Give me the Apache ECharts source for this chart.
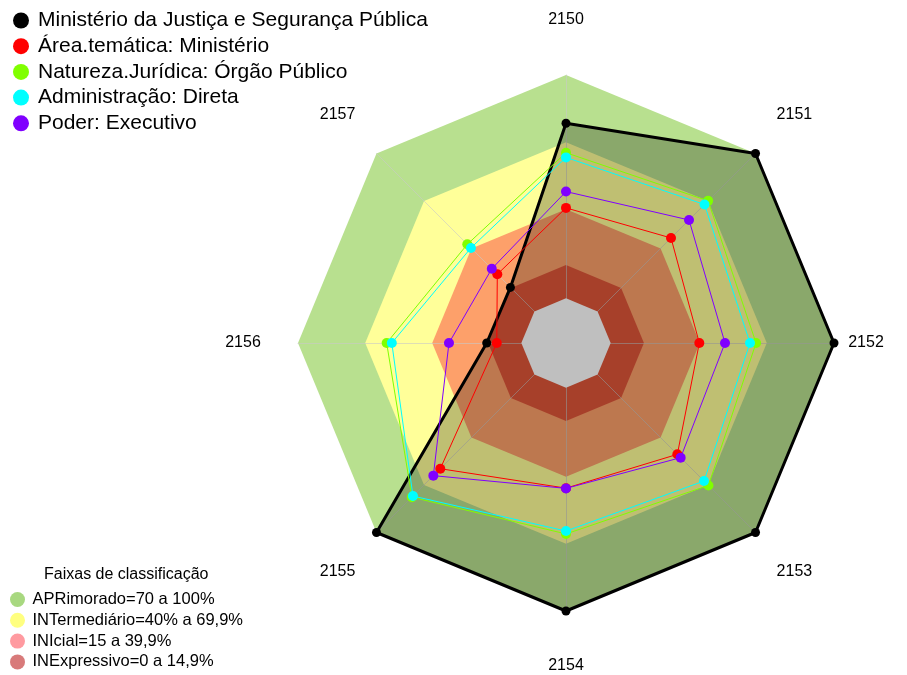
<!DOCTYPE html>
<html>
<head>
<meta charset="utf-8">
<script src="https://cdn.jsdelivr.net/npm/echarts@6.0.0/dist/echarts.min.js"></script>
<style>
    html, body {margin: 0; padding: 0; background: #fff;}
    #chart {width: 907px; height: 675px;}
</style>
</head>
<body>
<div id="chart"></div>
<script>
// eixos do radar, em sentido horario a partir do topo
const categorias = ['2150', '2151', '2152', '2153', '2154', '2155', '2156', '2157']

const nomesSeries = [
    'Ministério da Justiça e Segurança Pública',
    'Área.temática: Ministério',
    'Natureza.Jurídica: Órgão Público',
    'Administração: Direta',
    'Poder: Executivo'
]
const ministerio = [78.4, 100, 100, 100, 100, 100, 15.5, 15.2]
const areaTematica = [40.5, 46.5, 39.7, 50.5, 45.0, 59.6, 11.0, 23.5]
const naturezaJuridica = [65.2, 70.0, 65.1, 70.2, 65.5, 77.6, 60.3, 42.5]
const administracao = [63.1, 67.7, 62.4, 67.4, 64.2, 76.9, 58.0, 40.2]
const poder = [47.8, 57.9, 51.2, 52.6, 45.1, 64.0, 32.4, 27.0]

// faixas de classificacao (limite superior de cada faixa)
const nomesFaixas = [
    'APRimorado=70 a 100%',
    'INTermediário=40% a 69,9%',
    'INIcial=15 a 39,9%',
    'INExpressivo=0 a 14,9%'
]
const limitesFaixas = [100, 69.9, 39.9, 14.9]
const escalaMin = -20
const escalaMax = 100

const cx = 566, cy = 343, raio = 268
const fonte = '"Liberation Sans", Arial, sans-serif'

// radar do echarts gira anti-horario: inverte a ordem dos eixos 2..n
const ordem = arr => [arr[0]].concat(arr.slice(1).reverse())

const coresSeries = ['#000000', '#ff0000', '#80ff00', '#00ffff', '#8000ff']
const valoresSeries = [ministerio, areaTematica, naturezaJuridica, administracao, poder]
const coresFaixas = ['#b8e08f', '#ffff99', '#fda06a', '#df5639']
const coresLegendaFaixas = ['#a8d880', '#ffff80', '#ff9aa0', '#d87a7a']

const chart = echarts.init(document.getElementById('chart'))

const seriesFaixas = limitesFaixas.map((lim, i) => ({
    name: nomesFaixas[i],
    type: 'radar',
    z: 1,
    symbol: 'none',
    silent: true,
    itemStyle: {color: coresLegendaFaixas[i]},
    lineStyle: {width: 0},
    areaStyle: {color: coresFaixas[i], opacity: 1},
    data: [{value: ordem(categorias.map(() => lim))}]
}))

const buraco = {
    name: 'buraco',
    type: 'radar',
    z: 3,
    symbol: 'none',
    silent: true,
    lineStyle: {width: 0},
    areaStyle: {color: '#ffffff', opacity: 1},
    data: [{value: ordem(categorias.map(() => 0))}]
}

const seriesDados = valoresSeries.map((vals, i) => ({
    name: nomesSeries[i],
    type: 'radar',
    z: 4 + i,
    symbol: 'circle',
    symbolSize: i === 0 ? 9 : 10,
    itemStyle: {color: coresSeries[i]},
    lineStyle: {color: coresSeries[i], width: i === 0 ? 3 : 1},
    areaStyle: i === 0 ? {color: 'rgba(0,0,0,0.25)', opacity: 1} : undefined,
    data: [{value: ordem(vals)}]
}))

// rotulos dos eixos a 1.2x o raio; o da direita fica preso dentro da figura
const rotulos = categorias.map((c, i) => {
    const ang = (90 - 45 * i) * Math.PI / 180
    return {
        type: 'text',
        x: Math.min(cx + 323 * Math.cos(ang), 866),
        y: cy - 323 * Math.sin(ang),
        style: {
            text: c,
            font: '16px ' + fonte,
            fill: '#000',
            align: 'center',
            verticalAlign: 'middle'
        }
    }
})

chart.setOption({
    animation: false,
    backgroundColor: '#fff',
    radar: {
        z: 2,
        center: [cx, cy],
        radius: raio,
        shape: 'polygon',
        indicator: ordem(categorias).map(c => ({name: c, min: escalaMin, max: escalaMax})),
        axisName: {show: false},
        axisLine: {lineStyle: {color: 'rgba(200,200,200,0.6)', width: 1}},
        axisTick: {show: false},
        axisLabel: {show: false},
        splitLine: {show: false},
        splitArea: {show: false}
    },
    title: {
        text: 'Faixas de classificação',
        left: 39,
        top: 562,
        textStyle: {fontFamily: fonte, fontSize: 16, fontWeight: 'normal', color: '#000'}
    },
    legend: [
        {
            data: nomesSeries,
            orient: 'vertical',
            left: 13,
            top: 10,
            padding: 0,
            icon: 'circle',
            itemWidth: 24,
            itemHeight: 16,
            itemGap: 4.7,
            selectedMode: false,
            textStyle: {fontFamily: fonte, fontSize: 21, lineHeight: 21, color: '#000'}
        },
        {
            data: nomesFaixas,
            orient: 'vertical',
            left: 10,
            top: 591,
            padding: 0,
            icon: 'circle',
            itemWidth: 20,
            itemHeight: 15,
            itemGap: 3.8,
            selectedMode: false,
            textStyle: {fontFamily: fonte, fontSize: 16.5, lineHeight: 16.5, color: '#000'}
        }
    ],
    graphic: rotulos,
    series: seriesFaixas.concat([buraco], seriesDados)
})
</script>
</body>
</html>
